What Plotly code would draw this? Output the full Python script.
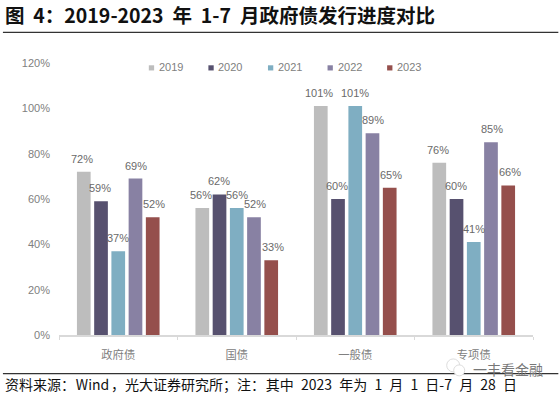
import plotly.graph_objects as go

categories = ["政府债", "国债", "一般债", "专项债"]
years = ["2019", "2020", "2021", "2022", "2023"]
v2019 = [0.72, 0.56, 1.01, 0.76]
v2020 = [0.59, 0.62, 0.60, 0.60]
v2021 = [0.37, 0.56, 1.01, 0.41]
v2022 = [0.69, 0.52, 0.89, 0.85]
v2023 = [0.52, 0.33, 0.65, 0.66]
series = [v2019, v2020, v2021, v2022, v2023]
colors = ["#BDBDBD", "#57516F", "#7FAEC2", "#8881A3", "#954F4C"]
tick_vals = [0, 0.2, 0.4, 0.6, 0.8, 1.0, 1.2]
tick_text = ["0%", "20%", "40%", "60%", "80%", "100%", "120%"]
title = "图\u00a0\u00a04\uff1a2019-2023\u00a0\u00a0年\u00a0\u00a01-7\u00a0\u00a0月政府债发行进度对比"
gap = "\u00a0\u00a0\u200a"
source = ("资料来源\uff1a\u200aWind\u200a\u200a\uff0c光大证券研究所\uff1b注\uff1a\u200a其中" + gap + "2023" + gap + "年为" + gap + "1" + gap
          + "月" + gap + "1" + gap + "日-7" + gap + "月" + gap + "28" + gap + "日")
mark = "一丰看金融"

W, H = 560, 395
L, R, T, B = 59.3, 532.7, 62.5, 335.5
PW, PH = R - L, B - T
px = lambda x: (x - L) / PW
py = lambda y: (B - y) / PH

anns, shapes = [], []
fig = go.Figure()
for i, (name, vals, c) in enumerate(zip(years, series, colors)):
    fig.add_bar(name=name, x=categories, y=vals, marker=dict(color=c, line_width=0), showlegend=False)
    for cat, v in zip(categories, vals):
        anns.append(dict(x=cat, y=v, xref="x", yref="y", text=f"{round(v*100)}%", showarrow=False,
                         xshift=(i - 2) * 18, yshift=13, xanchor="center", yanchor="middle",
                         font=dict(size=11, color="#6A6A6A", family="Liberation Sans")))
    sx = 149 + i * 59.5
    shapes.append(dict(type="rect", xref="paper", yref="paper", x0=px(sx), x1=px(sx + 5.3),
                       y0=py(70), y1=py(64.8), fillcolor=c, line_width=0))
    anns.append(dict(xref="paper", yref="paper", x=px(sx + 8), y=py(66.7), text=name, showarrow=False,
                     xanchor="left", yanchor="middle", font=dict(size=11, color="#808080")))

for yy in (31.7, 374.3):
    shapes.append(dict(type="line", xref="paper", yref="paper", x0=px(3.3), x1=px(558),
                       y0=py(yy), y1=py(yy), line=dict(color="#333333", width=1.2)))
for cx, cy, r in ((453, 366, 6.5), (459, 371, 5.5)):
    shapes.append(dict(type="circle", xref="paper", yref="paper", x0=px(cx - r), x1=px(cx + r),
                       y0=py(cy + r), y1=py(cy - r), fillcolor="white", line=dict(color="#DDDDDD", width=1)))

anns += [
    dict(xref="paper", yref="paper", x=px(3), y=py(14), text=title, showarrow=False,
         xanchor="left", yanchor="middle",
         font=dict(size=19.5, color="#111111", family="Noto Sans CJK SC", weight="bold")),
    dict(xref="paper", yref="paper", x=px(3.5), y=py(385), text=source, showarrow=False,
         xanchor="left", yanchor="middle",
         font=dict(size=14, color="#111111", family="Noto Sans CJK SC")),
    dict(xref="paper", yref="paper", x=px(545), y=py(369.5), text=mark, showarrow=False,
         xanchor="right", yanchor="middle",
         font=dict(size=14, color="#777777", family="Noto Sans CJK SC")),
]

fig.update_layout(
    width=W, height=H, autosize=False, template=None, paper_bgcolor="white", plot_bgcolor="white",
    margin=dict(l=L, r=W - R, t=T, b=H - B, autoexpand=False), bargap=0.273, bargroupgap=0.205, barmode="group",
    font=dict(family="Liberation Sans, Noto Sans CJK SC", color="#808080"),
    showlegend=False,
    xaxis=dict(showgrid=False, showline=True, linecolor="#D9D9D9", linewidth=1.5,
               ticks="outside", tickcolor="#D9D9D9", ticklen=3, tickson="boundaries",
               ticklabelstandoff=9,
               tickfont=dict(size=11.3, color="#808080", family="Noto Sans CJK SC")),
    yaxis=dict(range=[0, 1.2], tickvals=tick_vals, ticktext=tick_text, showgrid=False, showline=False,
               ticks="", ticklabelstandoff=8, zeroline=False, tickfont=dict(size=11, color="#808080")),
    annotations=anns,
    shapes=shapes,
)
fig.write_html("out.html", config=dict(displayModeBar=False),
               post_script="document.body.style.margin='0';document.documentElement.style.overflow='hidden';")
